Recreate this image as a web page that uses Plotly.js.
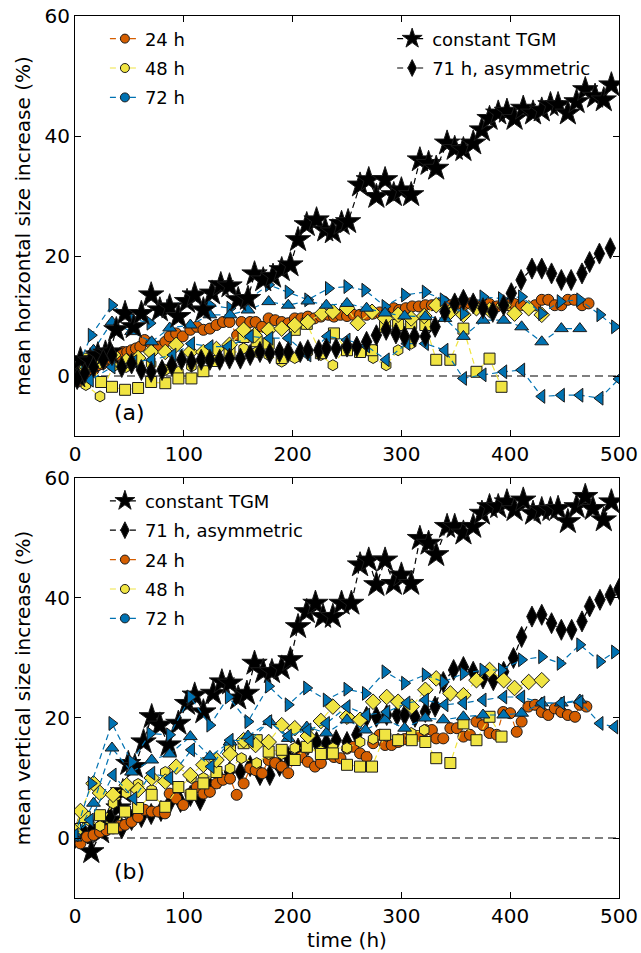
<!DOCTYPE html>
<html><head><meta charset="utf-8">
<script src="https://cdn.plot.ly/plotly-3.0.1.min.js"></script>
<style>html,body{margin:0;padding:0;background:#fff}#plot{width:641px;height:953px}</style>
</head><body><div id="plot"></div>
<script>
// ---------- Panel (a): mean horizontal size increase (%) ----------
const tgmA_x = [2,5,14,21,28,32,38,46,54,61,70,78,87,95,103,110,118,126,134,142,150,159,165,173,182,190,198,205,213,222,230,237,245,251,262,270,277,285,293,300,309,317,325,332,342,349,357,366,374,381,389,397,404,412,421,429,437,444,453,461,469,478,486,493];
const tgmA_y = [0,2.7,2.5,3.5,3.8,4,7.7,10.4,8.2,10.4,13.5,11,11.5,9.9,12.4,13.5,11,13.8,15.2,15,12.7,12.9,17,16,16.6,17.7,18.5,22.7,25.2,26,24.3,24,25.4,25.7,31.8,32.7,29.9,32.7,30.2,31,30.2,36,35.4,34.6,38.8,37.9,37.7,38.8,41,42.9,43.8,44.1,42.9,44.6,43.8,44.3,45.2,45.2,43.8,45.7,47.7,46.6,46,48.5];
const asymA_x = [2,9,17,26,34,43,52,61,70,80,89,98,107,116,124,133,142,152,161,170,179,188,196,207,214,224,231,240,250,259,268,277,286,295,303,312,322,331,340,349,357,366,375,384,394,401,410,420,429,438,447,456,466,473,482,492];
const asymA_y = [-0.5,0.5,1.5,2.7,3.5,1.5,2.1,1,0.7,1,1.8,2.7,2.4,2.7,2.7,2.7,2.9,2.9,3.5,4,3.8,4,4,4,4.3,4.3,4.6,4.6,4.9,4.9,5.7,6.8,7.7,7.1,6.6,6.6,6.6,8.2,10.7,12.1,12.7,12.1,11.3,10.7,11.8,13.8,16,17.9,17.9,17.1,16,16,17.1,19,20.4,21.3];
const h24A_x = [0,3,8,13,17,21,25,29,33,37,41,44,48,52,56,60,64,70,77,83,87,93,99,106,112,118,124,130,136,142,149,153,161,166,172,178,184,190,196,202,208,214,220,226,233,238,244,250,256,262,268,274,280,286,293,298,304,310,316,322,328,333,339,345,351,357,363,369,375,381,388,393,398,404,410,417,423,429,435,441,447,453,459,466,472];
const h24A_y = [-0.5,-0.9,-0.5,0.5,1,1.8,2,2.4,2.7,2.9,3.5,4,4,4.3,4.6,4.9,6,5.4,4.9,5.7,6.6,7.1,6.6,7.7,8.2,7.7,7.9,8.5,9,9,6.8,9,9,9,8.2,9.6,9.3,9,8.8,9.6,9.6,9.9,9.6,9.9,10.2,9.9,10.2,10,10.2,10.2,10.2,10.4,10.6,10.4,11.3,11,11.3,11.6,11.6,11.8,11.8,12,12.4,11.8,12,11.8,12.1,11.8,11.8,12,11.6,11.8,11.8,12,11.8,11.3,11.8,12.7,12.7,11.8,11.8,12.7,12.7,11.8,12.1];
const h48hexA_x = [0,10,23,35,47,58,70,83,95,107,119,130,142,155,167,178,190,202,214,226,237,250,262,274,286,297,309];
const h48hexA_y = [-0.5,-1.5,-3.4,1.6,1.5,2.5,2,1,0.7,1.6,3,2.5,3.5,4.6,4,3.5,2.4,3,4,3.5,1.8,4.9,4,3,1.8,4.3,5.4];
const h48sqA_x = [0,11,24,34,46,58,70,83,95,107,118,130,142,155,167,178,190,202,213,226,238,250,262,273,285,297,309,322,332,345,357,369,381,392];
const h48sqA_y = [1,2.9,-1,-1.8,-2.3,-2,-1,-1.2,-0.4,-0.4,0.8,2.5,4,6.5,5.8,5.4,3,7.7,8.7,3.8,7.1,4.3,4,4.3,8.2,8.5,8.8,8.5,2.7,2.7,7.9,0.7,2.9,-1.8];
const h48dmA_x = [0,11,23,35,47,58,70,83,93,106,118,130,142,155,165,178,190,202,214,227,237,250,260,273,285,297,309,321,332,345,357,369,381,394,404,417,429];
const h48dmA_y = [1,1.5,2.5,3.5,2.5,3,4,4,5.2,4,4,4.5,5.2,7.7,6.8,7.7,7.9,8.5,9,10.4,10.7,11.3,8.8,10.7,9.6,10.2,9.6,10,11.8,10.7,10.2,11.3,11,11.8,10.4,11.3,10.2];
const h72rtA_x = [0,15,34,52,69,87,106,124,142.5,159,178,196,214,233,250,266.5,285,303,322,338.5,357,375,392,410.5,429,446,464,482.5,496];
const h72rtA_y = [0.5,6.8,11.8,9.6,8.8,11.6,12.9,11.8,11.3,12.7,15.2,14,12.7,14.6,14.9,14.3,11.6,13.5,14,12.7,10.4,13.2,12.9,13.2,10.4,12.4,12.7,10.2,8.2];
const h72upA_x = [0,17,34,52,70.5,87,106,124,142.5,159,178,196,214,231,250,268,285,303,322,340,357,375,394,410.5,429,447,464];
const h72upA_y = [0,4.3,9,7.4,5.7,8,8.5,10.2,10.2,11,12.4,11.8,12.5,11.8,12.1,11.3,10.5,10,9.9,9.6,6.6,9.3,9.3,8.2,5.7,7.9,7.9];
const h72ltA_x = [0,14,34,54,70.5,90,107,124,141,161,179,196,214,232,250,268,286,305,322,340,357,375,394,410.5,429,447,464,482.5,500];
const h72ltA_y = [0,-0.7,1.5,2.4,2.7,3.5,5.4,4.9,4.9,6.6,6.3,6.3,3.5,6.6,6,5,2.7,5.4,5.4,4.3,-0.4,0.2,0.7,1,-3.4,-3.2,-3.2,-3.7,-0.5];

// ---------- Panel (b): mean vertical size increase (%) ----------
const tgmB_x = [3,8,15,24,33,40,44,49,55,63,70.5,78,86,95,103,110,118,127,135,142.5,150,158,165,173,181,190,198,205,213,221,228,237,245,254,262,270,277,285,293,300,309,317,325,332,342,349,357,366,374,381,389,397,404,412,421,429,437,444,453,461,469,476,486,493];
const tgmB_y = [1,0.5,-2.3,1,3,5,7.7,12.4,11.9,16,20.2,18.8,15.5,19.1,22.4,23.8,21,24.1,26,25.8,23.3,24.1,29.1,27.7,27.7,28.3,29.7,35.2,37.7,39.1,36.9,36.9,39.1,39.1,45.5,46.3,42.2,46.3,42.4,43.8,42.4,49.9,49.1,47.2,51.9,51.9,50.8,51.9,54.1,55.2,55.2,56,54.7,56.3,54.1,54.7,54.7,54.9,52.7,55.2,56.9,54.9,53,56];
const asymB_x = [0,8,16,24,32,43,52,61,70,79,87,97,106,115,124,133,142,152,161,170,179,188,196,205,214,222,231,240,250,259,268,277,286.5,296,303,312.5,322,331,338.5,348,357,366,375,384.5,394,403,410.5,420,429,438,447,456.5,466,473,482.5,492,500];
const asymB_y = [0,1,1.5,2.2,3.5,1.6,3,3.5,4,4.5,5.8,6,7,6.3,8.5,10,11,11,12,10.5,10.5,12,13.5,14.9,15.5,16,15.8,16.3,16,17.2,20.2,20.2,20.5,20.5,20.5,20.2,21,21.9,26,28,28.5,27.7,26.6,26.3,27.7,30,33.5,36.9,37.2,35.8,34.7,34.7,36.1,38.6,39.7,40.5,41.5];
const h24B_x = [0,5,11,17,23,29,35,41,46,52,58,64,70.5,76.6,82.7,87,93,99.5,106,112,118,124,130,136,142.5,148.6,155,161,166,172,178,184,190,196,202,208,214,220.6,226,232,238,244,250,256,262,268,274,280,285,291,297,303,309,315,322,328,332,338.5,345,351,357,363,369,375,381,387.6,393.6,400,406,410.5,416.7,422.8,429,435,441,447,453,459.6,464,470];
const h24B_y = [0,-0.9,0.2,0.5,1,1.3,1.6,2,2.2,2.7,3.5,4.7,4.4,4.4,4.1,7.4,6.6,5.5,7.4,8.5,7.4,7.7,9.1,9.7,9.9,7.2,9.1,11.6,11.3,10.8,13,12.5,11.9,10.8,13,13.5,12.7,11.9,12.5,14,13.5,13.3,14.9,15.2,14.1,13.5,15.8,17.2,15.5,15.5,16,16.5,16.5,17,18,18,16.6,16.6,18.3,18.3,16.9,17.2,19.4,18.8,17.5,17.2,21,20.8,17.7,19.4,21.9,22.2,21,20.5,21.6,21,20.5,20.2,22.2,21.9];
const h48hexB_x = [0,12,23,35,47,58,70.5,83,95,107,118,130,142.5,153,167,178,190,202,214,226,237,250,262,274,286,297,309,321];
const h48hexB_y = [1,3,2,5.8,7.5,9,8,11,8.5,10,10,11,11.6,13.3,12.5,14,14,15,15,14.5,15,15,16,16.5,17,16.5,17.5,18];
const h48sqB_x = [0,9,23,35,46,58,70.5,83,95,107,118,130,142.5,155,167,178,190,202,213,226,237,250,262,273,285,297,309.5,322,332,345,357,369,381,392];
const h48sqB_y = [1.5,3.5,3.8,1.6,4.4,5,7.2,5.2,8.5,7.2,9.1,11,15,15.8,16.3,14.4,14.7,13,15.2,14,14.1,12.2,11.9,11.9,17.2,16.3,16.3,16,13.3,12.5,19.1,16.3,20.2,16.9];
const h48dmB_x = [0,5,17,23,35,47.5,58,70.5,83,93,106,118,130,142.5,155,166,178,190,202,214,226,237,250,262,274,286.5,297,309.5,322,332,345,357,369,381,394,404,417,429];
const h48dmB_y = [1,4.5,9.1,7.5,7.2,8.8,8,10,9.4,11.9,10.5,12.2,13,14,16.3,15.5,16,18.8,18.3,17,19.5,21.9,20.2,19.7,22.7,23.5,22.7,21.9,24.7,26.6,24.1,23.8,26.3,28,26.3,25,26,26.3];
const h72rtB_x = [0,15,34,52,69,87,106,124,141,159,178,196,213,231,250,267,285,303,322,338.5,357,375,392,410.5,429,446,464,482.5,496];
const h72rtB_y = [0.5,9.1,19.1,12.7,17.4,17.2,23.5,18.8,23.5,19.4,25.3,22.2,25,23,24.8,24.1,27.7,25.8,27.2,26,27.4,28,28,29.7,30.2,29.1,32.2,29.4,31];
const h72upB_x = [0,17,34,52,70.5,87,106,124,142.5,159,179,196,213,231,250,267,285,303,322,338.5,357,375,394,410.5,429,447,464];
const h72upB_y = [0,5.8,15,11,13,14,16.9,13.6,16,17,19.4,16.6,18.5,17.5,19.7,18,19.7,18.3,20,19.7,20.2,20.5,20.5,20.8,22.5,22.5,23];
const h72ltB_x = [0,14,35,54,70.5,87,107,125,142.5,161,178,196,214,231,250,268,286.5,305,322,340,357,375,394,410.5,429,447,464,482.5,496];
const h72ltB_y = [0.5,3,10.5,6.6,10.8,10,14.7,11.9,16.3,16.2,19.4,17,18,19.1,21.9,20.5,21,22.5,23,22.2,22.5,23,23.5,23.5,22.5,22.5,22.7,19.1,18.5];

const xTicks = [0,100,200,300,400,500];
const yTicks = [0,20,40,60];

// ---------- styling ----------
const COL = {o:'#D55E00', y:'#F0E442', b:'#0072B2', k:'#000000'};
const DASH = '6px,4px';
const EDGE = {color:'#1a1a1a', width:1};
const FONT = 'DejaVu Sans, sans-serif';

function series(x, y, color, symbol, size, xa, ya, group, lineColor){
  return {x:x, y:y, xaxis:xa, yaxis:ya, type:'scatter', mode:'lines+markers',
    line:{color:lineColor||color, width:1.2, dash:DASH},
    marker:{symbol:symbol, size:size, color:color, line:EDGE},
    showlegend:false, legendgroup:group, hoverinfo:'x+y'};
}
function key(name, color, symbol, size, xa, ya, legend, group){
  return {x:[null], y:[null], xaxis:xa, yaxis:ya, type:'scatter', mode:'lines+markers', name:name,
    legend:legend, legendgroup:group,
    line:{color:color, width:1.2, dash:DASH},
    marker:{symbol:symbol, size:size, color:color, line:EDGE}};
}

const traces = [
  // panel a (24,48,72 then TGM, 71h)
  series(h24A_x, h24A_y, COL.o, 'circle', 11, 'x','y','a24'),
  series(h48hexA_x, h48hexA_y, COL.y, 'hexagon', 11, 'x','y','a48'),
  series(h48sqA_x, h48sqA_y, COL.y, 'square', 11, 'x','y','a48'),
  series(h48dmA_x, h48dmA_y, COL.y, 'diamond', 12, 'x','y','a48'),
  series(h72rtA_x, h72rtA_y, COL.b, 'triangle-right', 12, 'x','y','a72'),
  series(h72upA_x, h72upA_y, COL.b, 'triangle-up', 12, 'x','y','a72'),
  series(h72ltA_x, h72ltA_y, COL.b, 'triangle-left', 12, 'x','y','a72'),
  series(tgmA_x, tgmA_y, COL.k, 'star', 19, 'x','y','atgm'),
  series(asymA_x, asymA_y, COL.k, 'diamond-tall', 15, 'x','y','aasym'),
  key('24 h', COL.o, 'circle', 9, 'x','y','legend','a24'),
  key('48 h', COL.y, 'circle', 9, 'x','y','legend','a48'),
  key('72 h', COL.b, 'circle', 9, 'x','y','legend','a72'),
  key('constant TGM', COL.k, 'star', 15, 'x','y','legend2','atgm'),
  key('71 h, asymmetric', COL.k, 'diamond-tall', 12, 'x','y','legend2','aasym'),
  // panel b (TGM, 71h, 24, 48, 72)
  series(tgmB_x, tgmB_y, COL.k, 'star', 19, 'x2','y2','btgm'),
  series(asymB_x, asymB_y, COL.k, 'diamond-tall', 15, 'x2','y2','basym'),
  series(h24B_x, h24B_y, COL.o, 'circle', 11, 'x2','y2','b24'),
  series(h48hexB_x, h48hexB_y, COL.y, 'hexagon', 11, 'x2','y2','b48'),
  series(h48sqB_x, h48sqB_y, COL.y, 'square', 11, 'x2','y2','b48'),
  series(h48dmB_x, h48dmB_y, COL.y, 'diamond', 12, 'x2','y2','b48'),
  series(h72rtB_x, h72rtB_y, COL.b, 'triangle-right', 12, 'x2','y2','b72'),
  series(h72upB_x, h72upB_y, COL.b, 'triangle-up', 12, 'x2','y2','b72'),
  series(h72ltB_x, h72ltB_y, COL.b, 'triangle-left', 12, 'x2','y2','b72'),
  key('constant TGM', COL.k, 'star', 15, 'x2','y2','legend3','btgm'),
  key('71 h, asymmetric', COL.k, 'diamond-tall', 12, 'x2','y2','legend3','basym'),
  key('24 h', COL.o, 'circle', 9, 'x2','y2','legend3','b24'),
  key('48 h', COL.y, 'circle', 9, 'x2','y2','legend3','b48'),
  key('72 h', COL.b, 'circle', 9, 'x2','y2','legend3','b72')
];

function xaxis(anchor, title){
  const a = {anchor:anchor, domain:[0,1], range:[0,500], tickvals:xTicks, ticks:'inside', ticklen:6,
    tickcolor:'#000', mirror:'allticks', showline:true, linecolor:'#000', linewidth:1,
    showgrid:false, zeroline:false, tickfont:{family:FONT, size:20, color:'#000'}};
  if (title) a.title = {text:title, font:{family:FONT, size:20, color:'#000'}, standoff:4};
  return a;
}
function yaxis(anchor, dom, title){
  return {anchor:anchor, domain:dom, range:[-10,60], tickvals:yTicks, ticks:'inside', ticklen:6,
    tickcolor:'#000', mirror:'allticks', showline:true, linecolor:'#000', linewidth:1,
    showgrid:false, zeroline:false, tickfont:{family:FONT, size:20, color:'#000'},
    title:{text:title, font:{family:FONT, size:20, color:'#000'}, standoff:8}};
}
const legBase = {xanchor:'left', yanchor:'top', bgcolor:'rgba(0,0,0,0)', borderwidth:0,
  font:{family:FONT, size:18, color:'#000'}, tracegroupgap:3, itemwidth:30};

const layout = {
  width:641, height:953, margin:{l:75, r:22, t:16, b:55},
  paper_bgcolor:'#fff', plot_bgcolor:'#fff',
  font:{family:FONT, color:'#000'},
  xaxis: xaxis('y'),
  yaxis: yaxis('x', [0.5238,1], 'mean horizontal size increase (%)'),
  xaxis2: xaxis('y2', 'time (h)'),
  yaxis2: yaxis('x2', [0,0.4762], 'mean vertical size increase (%)'),
  legend: Object.assign({}, legBase, {x:0.055, y:0.995}),
  legend2: Object.assign({}, legBase, {x:0.583, y:0.995}),
  legend3: Object.assign({}, legBase, {x:0.055, y:0.471}),
  shapes:[
    {type:'line', xref:'x domain', yref:'y', x0:0, x1:1, y0:0, y1:0, layer:'below', line:{color:'#000', width:1.2, dash:'8px,5px'}},
    {type:'line', xref:'x2 domain', yref:'y2', x0:0, x1:1, y0:0, y1:0, layer:'below', line:{color:'#000', width:1.2, dash:'8px,5px'}}
  ],
  annotations:[
    {text:'(a)', xref:'x', yref:'y', x:50, y:-6, showarrow:false, font:{family:FONT, size:22, color:'#000'}},
    {text:'(b)', xref:'x2', yref:'y2', x:50, y:-5.5, showarrow:false, font:{family:FONT, size:22, color:'#000'}}
  ]
};

Plotly.newPlot('plot', traces, layout, {displayModeBar:false, staticPlot:true});
</script></body></html>
